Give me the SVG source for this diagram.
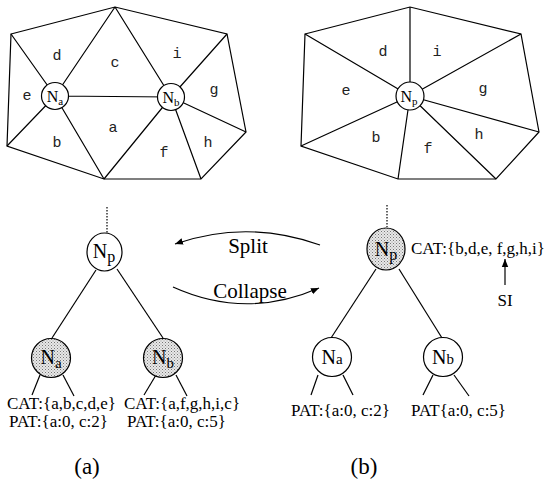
<svg xmlns="http://www.w3.org/2000/svg" width="552" height="479" viewBox="0 0 552 479">
<style>
.ln{stroke:#000;stroke-width:1.2;fill:none}
.mono{font-family:"Liberation Mono",monospace;font-size:15px;fill:#222;text-anchor:middle}
.serif{font-family:"Liberation Serif",serif;fill:#000}
.lbl{font-size:17px}
.big{font-size:21px;text-anchor:middle}
.cap{font-size:23px;text-anchor:middle}
.nd{stroke:#000;stroke-width:1.2}
.wh{fill:#fff}
.st{fill:url(#stip)}
.nl{font-family:"Liberation Serif",serif;font-size:20px;text-anchor:middle;fill:#000}
.ml{font-family:"Liberation Serif",serif;font-size:16px;text-anchor:middle;fill:#000}
</style>
<defs>
<pattern id="stip" width="3" height="3" patternUnits="userSpaceOnUse">
<rect width="3" height="3" fill="#e8e8e8"/>
<rect x="0" y="0" width="1" height="1" fill="#777"/>
<rect x="1.5" y="1.5" width="1" height="1" fill="#999"/>
</pattern>
<marker id="ah" viewBox="0 0 10 10" refX="10" refY="5" markerWidth="8" markerHeight="8" markerUnits="userSpaceOnUse" orient="auto">
<path d="M0,1 L10,5 L0,9 z" fill="#000"/>
</marker>
</defs>

<g id="mesh-a">
<polygon class="ln" points="11,34 115,7 227,34 246,132 201,179 104,179 7,146"/>
<path class="ln" d="M55,96 L11,34 M55,96 L115,7 M55,96 L7,146 M55,96 L104,179 M55,96 L171,97 M171,97 L115,7 M171,97 L227,34 M171,97 L246,132 M171,97 L201,179 M171,97 L104,179"/>
<text class="mono" x="57" y="60">d</text>
<text class="mono" x="115" y="67">c</text>
<text class="mono" x="177" y="58">i</text>
<text class="mono" x="27" y="100">e</text>
<text class="mono" x="214" y="94">g</text>
<text class="mono" x="113" y="132">a</text>
<text class="mono" x="57" y="147">b</text>
<text class="mono" x="164" y="157">f</text>
<text class="mono" x="208" y="147">h</text>
<g id="mesh-na">
<circle class="nd wh" cx="55" cy="96" r="13.5"/>
<text class="ml" x="55" y="102">N<tspan font-size="11" dy="3">a</tspan></text>
</g>
<g id="mesh-nb">
<circle class="nd wh" cx="171" cy="97" r="13.5"/>
<text class="ml" x="171" y="103">N<tspan font-size="11" dy="3">b</tspan></text>
</g>
</g>

<g id="mesh-b">
<polygon class="ln" points="305,34 410,7 521,34 539,132 496,179 398,179 301,146"/>
<path class="ln" d="M410,96 L305,34 M410,96 L410,7 M410,96 L521,34 M410,96 L539,132 M410,96 L496,179 M410,96 L398,179 M410,96 L301,146"/>
<text class="mono" x="383" y="56">d</text>
<text class="mono" x="437" y="56">i</text>
<text class="mono" x="346" y="95">e</text>
<text class="mono" x="483" y="93">g</text>
<text class="mono" x="376" y="142">b</text>
<text class="mono" x="428" y="153">f</text>
<text class="mono" x="479" y="139">h</text>
<g id="mesh-np">
<circle class="nd wh" cx="410" cy="96" r="14"/>
<text class="ml" x="409" y="102">N<tspan font-size="11" dy="3">p</tspan></text>
</g>
</g>

<g id="connectors">
<line class="ln" x1="107" y1="207" x2="107" y2="233" stroke-dasharray="1.5,1.5"/>
<line class="ln" x1="387" y1="205" x2="387" y2="227" stroke-dasharray="1.5,1.5"/>
<line class="ln" x1="96" y1="270" x2="52" y2="338"/>
<line class="ln" x1="117" y1="269" x2="163" y2="338"/>
<line class="ln" x1="376" y1="269" x2="331" y2="338"/>
<line class="ln" x1="399" y1="269" x2="442" y2="338"/>
<line class="ln" x1="40" y1="375" x2="32" y2="395"/>
<line class="ln" x1="63" y1="375" x2="74" y2="396"/>
<line class="ln" x1="156" y1="375" x2="144" y2="395"/>
<line class="ln" x1="176" y1="375" x2="187" y2="396"/>
<line class="ln" x1="318" y1="375" x2="311" y2="395"/>
<line class="ln" x1="343" y1="375" x2="353" y2="395"/>
<line class="ln" x1="433" y1="375" x2="423" y2="395"/>
<line class="ln" x1="454" y1="375" x2="469" y2="396"/>
<path class="ln" d="M320,245 Q247,219 175,244" marker-end="url(#ah)"/>
<path class="ln" d="M173,287 Q246,320 319,288" marker-end="url(#ah)"/>
<line class="ln" x1="505" y1="285" x2="505" y2="259" marker-end="url(#ah)"/>
</g>

<text class="serif big" font-family="Liberation Serif, serif" x="248" y="253">Split</text>
<text class="serif big" font-family="Liberation Serif, serif" x="250" y="298">Collapse</text>

<g id="tree-a-np">
<ellipse class="nd wh" cx="104.5" cy="252" rx="17.5" ry="19"/>
<text class="nl" x="104" y="258">N<tspan font-size="16" dy="4">p</tspan></text>
</g>
<g id="tree-a-na">
<ellipse class="nd st" cx="51" cy="358" rx="19.5" ry="19.5"/>
<text class="nl" x="51" y="364">N<tspan font-size="15" dy="4">a</tspan></text>
</g>
<g id="tree-a-nb">
<ellipse class="nd st" cx="163" cy="358" rx="19.5" ry="19.5"/>
<text class="nl" x="163" y="364">N<tspan font-size="15" dy="4">b</tspan></text>
</g>
<text class="serif lbl" x="7" y="409">CAT:{a,b,c,d,e}</text>
<text class="serif lbl" x="9" y="427">PAT:{a:0, c:2}</text>
<text class="serif lbl" x="124" y="409">CAT:{a,f,g,h,i,c}</text>
<text class="serif lbl" x="127" y="427">PAT:{a:0, c:5}</text>

<g id="tree-b-np">
<ellipse class="nd st" cx="386" cy="249" rx="19" ry="21"/>
<text class="nl" x="386" y="256">N<tspan font-size="16" dy="4">p</tspan></text>
</g>
<g id="tree-b-na">
<ellipse class="nd wh" cx="332" cy="357" rx="19.5" ry="19.5"/>
<text class="nl" x="332" y="364">N<tspan font-size="15">a</tspan></text>
</g>
<g id="tree-b-nb">
<ellipse class="nd wh" cx="443" cy="357" rx="19.5" ry="19.5"/>
<text class="nl" x="443" y="364">N<tspan font-size="15">b</tspan></text>
</g>
<text class="serif lbl" x="411" y="254">CAT:{b,d,e, f,g,h,i}</text>
<text class="serif lbl" x="505" y="306" text-anchor="middle">SI</text>
<text class="serif lbl" x="291" y="416">PAT:{a:0, c:2}</text>
<text class="serif lbl" x="411" y="416">PAT{a:0, c:5}</text>

<text class="serif cap" x="87" y="474">(a)</text>
<text class="serif cap" x="364" y="474">(b)</text>
</svg>
